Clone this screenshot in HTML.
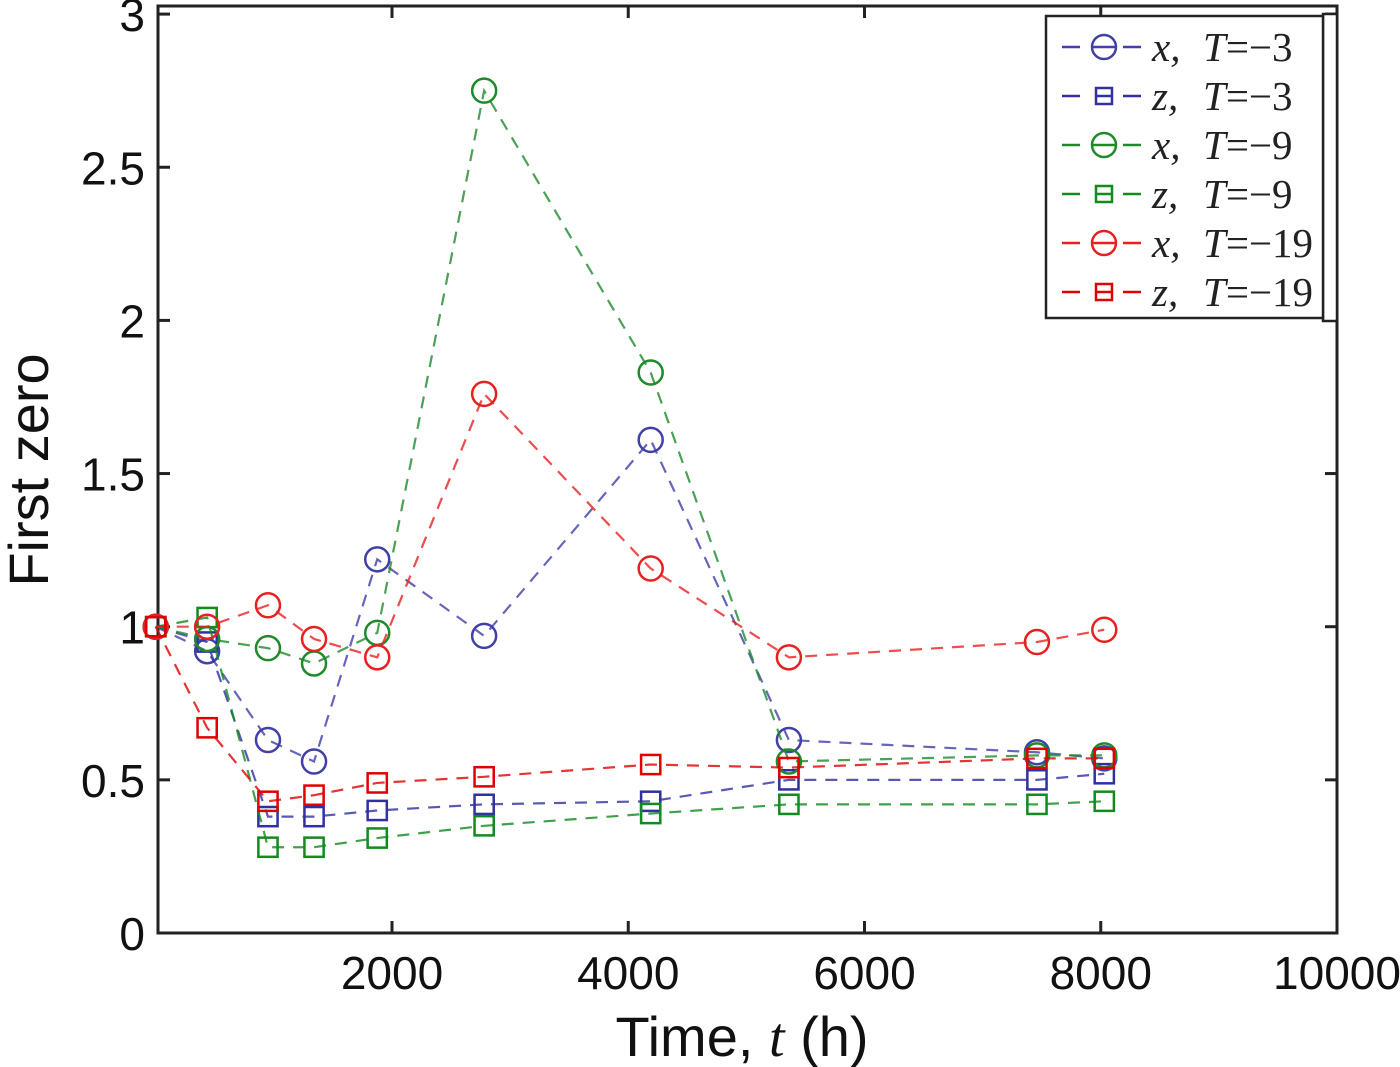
<!DOCTYPE html>
<html><head><meta charset="utf-8"><style>
html,body{margin:0;padding:0;background:#fff;}
svg{display:block;}
</style></head><body>
<svg id="chart" width="1400" height="1067" viewBox="0 0 1400 1067" xmlns="http://www.w3.org/2000/svg">
<g id="grid-layer"></g>
<g id="series-layer"></g>
<g id="legend-layer"></g>
</svg>
<script>
const times = [0, 435, 950, 1340, 1875, 2780, 4190, 5360, 7460, 8030];
const blueX = [1.0, 0.92, 0.63, 0.56, 1.22, 0.97, 1.61, 0.63, 0.59, 0.57];
const blueZ = [1.0, 0.95, 0.38, 0.38, 0.40, 0.42, 0.43, 0.50, 0.50, 0.52];
const greenX = [1.0, 0.96, 0.93, 0.88, 0.98, 2.75, 1.83, 0.56, 0.58, 0.58];
const greenZ = [1.0, 1.03, 0.28, 0.28, 0.31, 0.35, 0.39, 0.42, 0.42, 0.43];
const redX = [1.0, 1.0, 1.07, 0.96, 0.90, 1.76, 1.19, 0.90, 0.95, 0.99];
const redZ = [1.0, 0.67, 0.43, 0.45, 0.49, 0.51, 0.55, 0.54, 0.57, 0.57];
const xTicks = [2000, 4000, 6000, 8000, 10000];
const xTickLabels = ["2000", "4000", "6000", "8000", "10000"];
const yTicks = [0, 0.5, 1, 1.5, 2, 2.5, 3];
const yTickLabels = ["0", "0.5", "1", "1.5", "2", "2.5", "3"];
const legendLabels = [["x,", "T=\u22123"], ["z,", "T=\u22123"], ["x,", "T=\u22129"], ["z,", "T=\u22129"], ["x,", "T=\u221219"], ["z,", "T=\u221219"]];

const NS = "http://www.w3.org/2000/svg";
const L = 158, R = 1337, T = 6, B = 933;
const X = t => 155.75 + (t / 2000) * 236.25;
const Y = v => 933 - v * 306.3;
function mk(tag, attrs, parent) {
  const e = document.createElementNS(NS, tag);
  for (const k in attrs) e.setAttribute(k, attrs[k]);
  parent.appendChild(e);
  return e;
}
const ax = document.getElementById('grid-layer');
const sl = document.getElementById('series-layer');
const lg = document.getElementById('legend-layer');

const box = mk('rect', {x: L, y: T, width: R - L, height: B - T, fill: 'none', stroke: '#222', 'stroke-width': 3}, ax);



xTicks.forEach((t, i) => {
  const x = X(t);
  if (x < R - 2) {
    const a = mk('line', {x1: x, x2: x, y1: B, y2: B - 12, stroke: '#222', 'stroke-width': 3}, ax);
    
    
    const b = mk('line', {x1: x, x2: x, y1: T, y2: T + 12, stroke: '#222', 'stroke-width': 3}, ax);
    
    
  }
  const tx = mk('text', {x: x, y: 989, 'text-anchor': 'middle', 'font-family': 'Liberation Sans, sans-serif', 'font-size': 46, fill: '#111'}, ax);
  tx.textContent = xTickLabels[i];
  
  
});
yTicks.forEach((v, i) => {
  const y = Y(v);
  const a = mk('line', {x1: L, x2: L + 12, y1: y, y2: y, stroke: '#222', 'stroke-width': 3}, ax);
  
  
  const b = mk('line', {x1: R, x2: R - 12, y1: y, y2: y, stroke: '#222', 'stroke-width': 3}, ax);
  
  
  const tx = mk('text', {x: 145, y: y + 17, 'text-anchor': 'end', 'font-family': 'Liberation Sans, sans-serif', 'font-size': 46, fill: '#111'}, ax);
  tx.textContent = yTickLabels[i];
  
  
});
const xl = mk('text', {x: 742, y: 1056, 'text-anchor': 'middle', 'font-family': 'Liberation Sans, sans-serif', 'font-size': 56, fill: '#111'}, ax);
xl.innerHTML = 'Time, <tspan font-style="italic" font-family="Liberation Serif, serif">t</tspan> (h)';


const yl = mk('text', {x: 0, y: 0, transform: 'translate(48,470) rotate(-90)', 'text-anchor': 'middle', 'font-family': 'Liberation Sans, sans-serif', 'font-size': 56, fill: '#111'}, ax);
yl.textContent = 'First zero';



const series = [
  {vals: blueX, color: '#4040a8', m: 'o', name: 'series-x-t-3'},
  {vals: blueZ, color: '#3030a0', m: 's', name: 'series-z-t-3'},
  {vals: greenX, color: '#1e8a2a', m: 'o', name: 'series-x-t-9'},
  {vals: greenZ, color: '#128a1e', m: 's', name: 'series-z-t-9'},
  {vals: redX, color: '#e82020', m: 'o', name: 'series-x-t-19'},
  {vals: redZ, color: '#e00000', m: 's', name: 'series-z-t-19'}
];
function marker(parent, m, x, y, color, r) {
  let e;
  if (m === 'o') e = mk('circle', {cx: x, cy: y, r: r, fill: 'none', stroke: color, 'stroke-width': 2.5}, parent);
  else e = mk('rect', {x: x - r * 0.8, y: y - r * 0.8, width: r * 1.6, height: r * 1.6, fill: 'none', stroke: color, 'stroke-width': 2.5}, parent);
  return e;
}
series.forEach(s => {
  const g = mk('g', {}, sl);
  
  
  const pts = s.vals.map((v, i) => X(times[i]) + ',' + Y(v)).join(' ');
  const pl = mk('polyline', {points: pts, fill: 'none', stroke: s.color, 'stroke-width': 2.2, 'stroke-dasharray': '12,9', opacity: 0.8}, g);
  
  
  s.vals.forEach((v, i) => {
    const mm = marker(g, s.m, X(times[i]), Y(v), s.color, 12);
    
    
  });
});

const lbox2 = mk('rect', {x: 1323, y: 14, width: 14, height: 307, fill: '#fff', stroke: '#222', 'stroke-width': 2.5}, lg);


const lbox = mk('rect', {x: 1046, y: 16, width: 277, height: 302, fill: '#fff', stroke: '#222', 'stroke-width': 2.5}, lg);


series.forEach((s, i) => {
  const y = 47 + i * 49;
  const g = mk('g', {}, lg);
  
  
  mk('line', {x1: 1062, x2: 1080, y1: y, y2: y, stroke: s.color, 'stroke-width': 2.5}, g);
  mk('line', {x1: 1123, x2: 1141, y1: y, y2: y, stroke: s.color, 'stroke-width': 2.5}, g);
  marker(g, s.m, 1104, y, s.color, s.m === 'o' ? 12 : 10);
  mk('line', {x1: s.m === 'o' ? 1092 : 1096, x2: s.m === 'o' ? 1116 : 1112, y1: y, y2: y, stroke: s.color, 'stroke-width': 2.5}, g);
  const t1 = mk('text', {x: 1152, y: y + 14, 'font-family': 'Liberation Serif, serif', 'font-style': 'italic', 'font-size': 41, fill: '#222'}, g);
  t1.textContent = legendLabels[i][0];
  const t2 = mk('text', {x: 1203, y: y + 14, 'font-family': 'Liberation Serif, serif', 'font-size': 41, fill: '#222'}, g);
  t2.innerHTML = '<tspan font-style="italic">T</tspan>' + legendLabels[i][1].slice(1);
});
</script>
</body></html>
